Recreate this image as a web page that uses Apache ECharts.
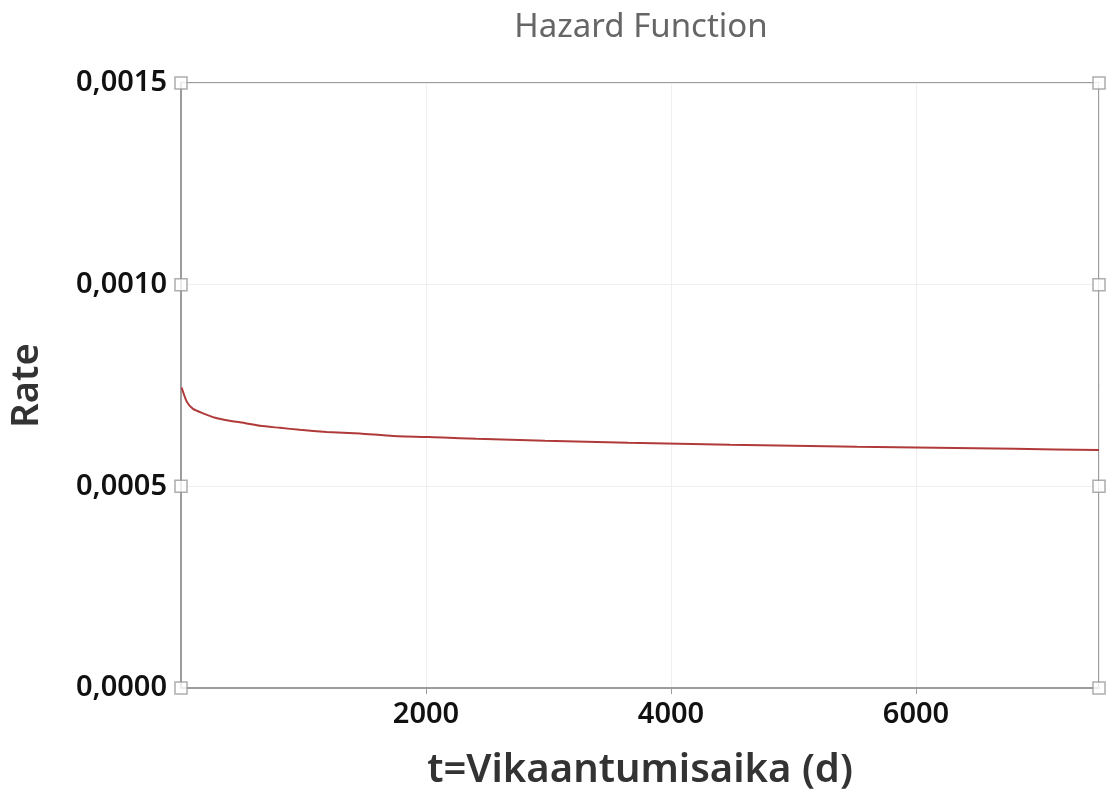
<!DOCTYPE html>
<html>
<head>
<meta charset="utf-8">
<script src="https://cdn.jsdelivr.net/npm/echarts@6/dist/echarts.min.js"></script>
<style>
  html, body { margin: 0; padding: 0; background: #fff; }
  #chart { width: 1109px; height: 796px; }
</style>
</head>
<body>
<div id="chart"></div>
<script>
// hazard curve
var times = [5, 47, 98, 180, 278, 373, 536, 645, 808, 971, 1189, 1461, 1731, 2139, 2414, 2971, 3649, 4482, 5518, 6808, 7494];
var rates = [0.000745, 0.000710, 0.000692, 0.000681, 0.000670, 0.000664, 0.000656, 0.000650, 0.000645, 0.000640, 0.000635, 0.000631, 0.000625, 0.000621, 0.000618, 0.000613, 0.000608, 0.000603, 0.000598, 0.000593, 0.000590];
var yTicks = [0, 0.0005, 0.0010, 0.0015];
var xMin = 0;
var xMax = 7494;

var fontName = '"Noto Sans", "Open Sans", sans-serif';
var frameColor = '#9c9c9c';

var lineData = times.map(function (t, i) { return [t, rates[i]]; });

// little square handles on the left and right edges, at each y tick
var handleData = [];
yTicks.forEach(function (v) {
  handleData.push([xMin, v]);
  handleData.push([xMax, v]);
});

var chart = echarts.init(document.getElementById('chart'));
var option = {
  animation: false,
  title: {
    text: 'Hazard Function',
    left: 636,
    top: 6,
    textAlign: 'center',
    textStyle: {
      fontFamily: fontName,
      fontSize: 33,
      fontWeight: 'normal',
      color: '#666666'
    }
  },
  grid: {
    left: 181,
    right: 10,
    top: 83,
    bottom: 108,
    outerBoundsMode: 'none',
    containLabel: false,
    show: true,
    borderColor: frameColor,
    borderWidth: 2
  },
  xAxis: {
    type: 'value',
    min: xMin,
    max: xMax,
    interval: 2000,
    name: 't=Vikaantumisaika (d)',
    nameLocation: 'middle',
    nameGap: 63,
    nameTextStyle: {
      fontFamily: fontName,
      fontSize: 40,
      fontWeight: 600,
      color: '#333333'
    },
    axisLine: { lineStyle: { color: frameColor, width: 2 } },
    axisTick: { show: true, length: 6, lineStyle: { color: frameColor, width: 1 } },
    axisLabel: {
      showMinLabel: false,
      showMaxLabel: false,
      margin: 12,
      fontFamily: fontName,
      fontSize: 29,
      fontWeight: 600,
      color: '#111111',
      formatter: function (v) { return String(v); }
    },
    splitLine: { show: true, lineStyle: { color: '#efefef', width: 1 } }
  },
  yAxis: {
    type: 'value',
    min: 0,
    max: 0.0015,
    interval: 0.0005,
    name: 'Rate',
    nameLocation: 'middle',
    nameGap: 135,
    nameTextStyle: {
      fontFamily: fontName,
      fontSize: 38,
      fontWeight: 600,
      color: '#333333'
    },
    axisLine: { show: true, lineStyle: { color: frameColor, width: 2 } },
    axisTick: { show: false },
    axisLabel: {
      margin: 14,
      fontFamily: fontName,
      fontSize: 29,
      fontWeight: 600,
      color: '#111111',
      formatter: function (v) { return v.toFixed(4).replace('.', ','); }
    },
    splitLine: { show: true, lineStyle: { color: '#efefef', width: 1 } }
  },
  series: [
    {
      name: 'hazard',
      type: 'line',
      data: lineData,
      showSymbol: false,
      smooth: 0.2,
      lineStyle: { color: '#b03a3a', width: 2 },
      z: 3
    },
    {
      name: 'handles',
      type: 'scatter',
      data: handleData,
      symbol: 'rect',
      symbolSize: 12,
      clip: false,
      itemStyle: { color: '#ffffff', borderColor: '#999999', borderWidth: 1.5 },
      z: 5
    }
  ]
};
chart.setOption(option);
</script>
</body>
</html>
